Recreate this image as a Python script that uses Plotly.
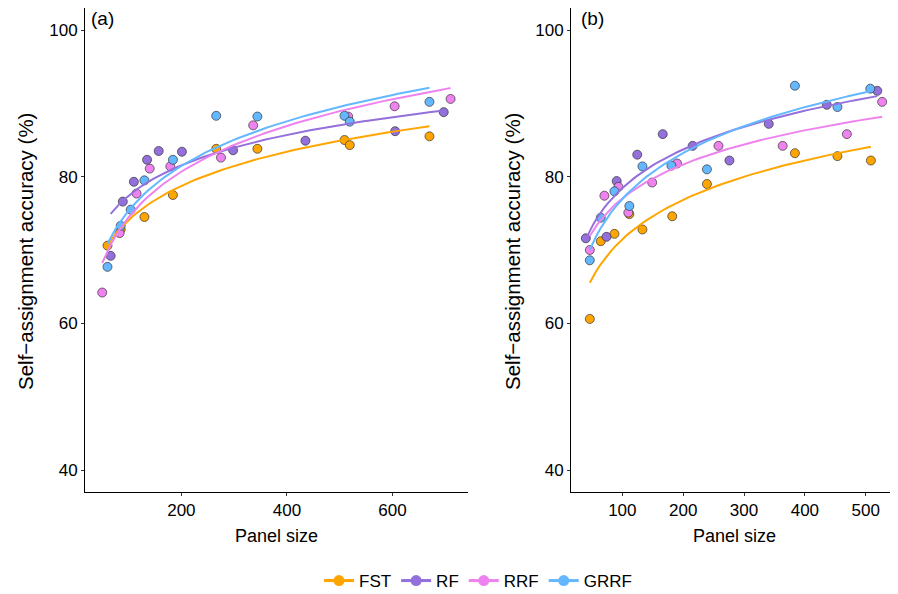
import numpy as np
import plotly.graph_objects as go

methods = ["FST", "RF", "RRF", "GRRF"]
colors = {"FST": "#FFA500", "RF": "#9370DB", "RRF": "#EE82EE", "GRRF": "#63B8FF"}

# Panel (a)
a_fst_x = [60, 85, 130, 184, 266, 344, 509, 519, 670]
a_fst_y = [70.6, 72.8, 74.5, 77.5, 83.8, 83.8, 85.0, 84.3, 85.5]
a_rf_x = [66, 89, 110, 135, 157, 201, 298, 435, 605, 697]
a_rf_y = [69.2, 76.6, 79.3, 82.3, 83.5, 83.4, 83.6, 84.9, 86.2, 88.8]
a_rrf_x = [50, 83, 115, 140, 179, 275, 336, 516, 604, 710]
a_rrf_y = [64.2, 72.3, 77.7, 81.1, 81.4, 82.6, 87.0, 88.2, 89.6, 90.6]
a_grrf_x = [60, 85, 104, 130, 184, 266, 344, 509, 519, 670]
a_grrf_y = [67.7, 73.3, 75.5, 79.5, 82.3, 88.3, 88.2, 88.3, 87.5, 90.2]

# Panel (b)
b_fst_x = [46.5, 64.5, 87, 111.5, 133, 182, 239, 383.6, 453.5, 508.5]
b_fst_y = [60.6, 71.2, 72.2, 74.9, 72.8, 74.6, 79.0, 83.2, 82.8, 82.2]
b_rf_x = [40, 74, 90.7, 124.5, 166.4, 215.5, 276, 340.6, 436, 519]
b_rf_y = [71.6, 71.8, 79.4, 83.0, 85.8, 84.2, 82.2, 87.2, 89.8, 91.7]
b_rrf_x = [46.5, 70.5, 93.5, 109.8, 149, 190, 258, 363.5, 469, 527]
b_rrf_y = [70.0, 77.4, 78.6, 75.1, 79.2, 81.8, 84.2, 84.2, 85.8, 90.2]
b_grrf_x = [46.5, 64.5, 87, 111.5, 133, 180.7, 239, 383.6, 453.5, 507.5]
b_grrf_y = [68.6, 74.4, 78.0, 76.0, 81.4, 81.5, 81.0, 92.4, 89.5, 92.0]

panel_a = {"FST": (a_fst_x, a_fst_y), "RF": (a_rf_x, a_rf_y),
           "RRF": (a_rrf_x, a_rrf_y), "GRRF": (a_grrf_x, a_grrf_y)}
panel_b = {"FST": (b_fst_x, b_fst_y), "RF": (b_rf_x, b_rf_y),
           "RRF": (b_rrf_x, b_rrf_y), "GRRF": (b_grrf_x, b_grrf_y)}

y_ticks = [40, 60, 80, 100]
a_x_ticks = [200, 400, 600]
b_x_ticks = [100, 200, 300, 400, 500]

FONT = "Liberation Sans, Arial, sans-serif"
fig = go.Figure()

W, H = 898, 594
OFF = 8  # page body margin offset


def PX(x):
    return (x - OFF) / W


def PY(y):
    return 1 - (y - OFF) / H


def log_fit(xs, ys):
    lx = np.log(np.array(xs, dtype=float))
    b, a = np.polyfit(lx, np.array(ys, dtype=float), 1)
    gx = np.linspace(min(xs), max(xs), 80)
    return gx, a + b * np.log(gx)


for panel, xa, ya in [(panel_a, "x", "y"), (panel_b, "x2", "y2")]:
    for m in methods:
        xs, ys = panel[m]
        fig.add_trace(go.Scatter(
            x=xs, y=ys, mode="markers", xaxis=xa, yaxis=ya, showlegend=False,
            marker=dict(size=9, color=colors[m], line=dict(color="#333333", width=0.7)),
            hoverinfo="x+y"))
    for m in methods:
        xs, ys = panel[m]
        gx, gy = log_fit(xs, ys)
        fig.add_trace(go.Scatter(
            x=gx, y=gy, mode="lines", xaxis=xa, yaxis=ya, showlegend=False,
            line=dict(color=colors[m], width=2), hoverinfo="skip"))

for m in methods:
    fig.add_trace(go.Scatter(
        x=[None], y=[None], mode="lines+markers", name=m,
        line=dict(color=colors[m], width=3),
        marker=dict(size=11, color=colors[m]), xaxis="x", yaxis="y"))

ydom = [PY(492), PY(8)]
axis_common = dict(showline=True, linecolor="black", linewidth=1, ticks="outside",
                   ticklen=3, tickcolor="#333333", showgrid=False, zeroline=False,
                   automargin=False,
                   tickfont=dict(family=FONT, size=17, color="black"))

fig.update_layout(
    template="none",
    width=W, height=H, paper_bgcolor="white", plot_bgcolor="white",
    margin=dict(l=0, r=0, t=0, b=0, pad=0),
    font=dict(family=FONT, color="black"),
    xaxis=dict(domain=[PX(85), PX(468)], range=[17.4, 743], tickvals=a_x_ticks,
               anchor="y", **axis_common),
    yaxis=dict(domain=ydom, range=[37, 103], tickvals=y_ticks, anchor="x", **axis_common),
    xaxis2=dict(domain=[PX(571), PX(897)], range=[15.6, 551.4], tickvals=b_x_ticks,
                anchor="y2", **axis_common),
    yaxis2=dict(domain=ydom, range=[37, 103], tickvals=y_ticks, anchor="x2", **axis_common),
    legend=dict(orientation="h", x=PX(478), xanchor="center", y=PY(581), yanchor="middle",
                font=dict(family=FONT, size=17, color="black"), itemwidth=30,
                bgcolor="rgba(0,0,0,0)", borderwidth=0),
    showlegend=True,
)

ann = []
ytitle = "Self\u2212assignment accuracy (%)"
for cx in [25, 512]:
    ann.append(dict(x=PX(cx), y=PY(252), xref="paper", yref="paper", text=ytitle,
                    textangle=-90, showarrow=False, xanchor="center", yanchor="middle",
                    font=dict(family=FONT, size=20.5, color="black")))
for cx in [276.5, 734]:
    ann.append(dict(x=PX(cx), y=PY(536), xref="paper", yref="paper", text="Panel size",
                    showarrow=False, xanchor="center", yanchor="middle",
                    font=dict(family=FONT, size=18, color="black")))
for lx, lab in [(89, "(a)"), (579, "(b)")]:
    ann.append(dict(x=PX(lx), y=PY(18), xref="paper", yref="paper", text=lab,
                    showarrow=False, xanchor="left", yanchor="middle",
                    font=dict(family=FONT, size=19, color="black")))
fig.update_layout(annotations=ann)

fig.write_html("out.html")
